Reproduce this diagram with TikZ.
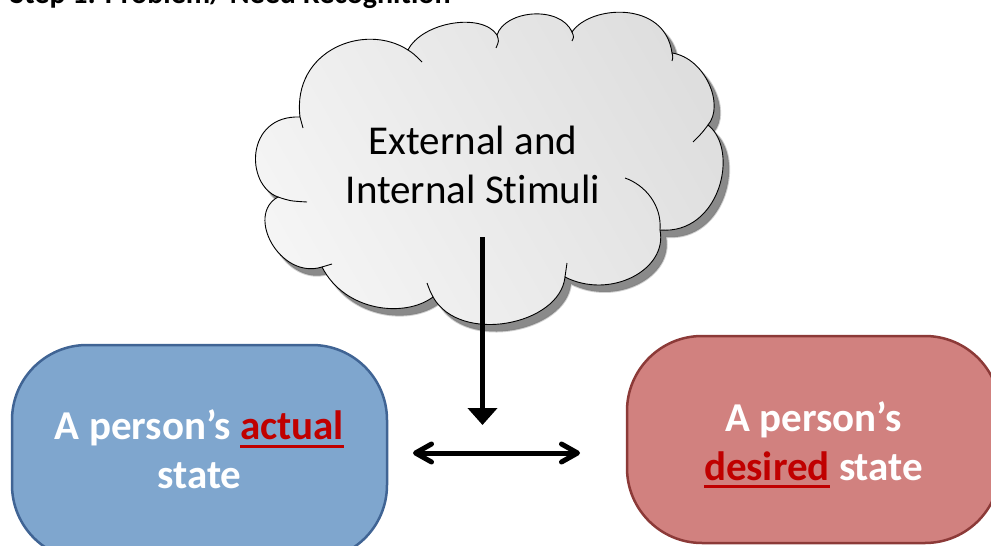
\documentclass[tikz,border=0pt]{standalone}
\usepackage{fontspec}
\setmainfont{Carlito}[Ligatures=NoCommon]
\usetikzlibrary{arrows.meta}

\definecolor{actualfill}{RGB}{127,166,206}
\definecolor{actualedge}{RGB}{64,100,148}
\definecolor{desiredfill}{RGB}{209,129,127}
\definecolor{desirededge}{RGB}{140,58,56}
\definecolor{accentred}{RGB}{192,0,0}
\definecolor{cloudlight}{RGB}{245,245,245}
\definecolor{clouddark}{RGB}{222,222,222}
\definecolor{cloudshadow}{RGB}{125,125,125}

% red, thickly underlined word
\newcommand\keyword[2][-8pt]{{\color{accentred}\setbox0\hbox{#2}\rlap{\rule[#1]{\wd0}{3pt}}\box0}}

% outline of the thought cloud (lobes between junction points)
\newcommand\cloudoutline{(300,117) .. controls (292,50) and (365,22) .. (408,50)
  .. controls (422,22) and (482,12) .. (497,35)
  .. controls (505,10) and (560,5) .. (572,32)
  .. controls (590,5) and (665,0) .. (672,53)
  .. controls (705,58) and (725,105) .. (708,125)
  .. controls (740,150) and (720,235) .. (660,230)
  .. controls (668,270) and (610,300) .. (565,277)
  .. controls (560,325) and (460,345) .. (433,297)
  .. controls (405,318) and (345,312) .. (322,267)
  .. controls (280,280) and (245,215) .. (278,197)
  .. controls (245,185) and (245,115) .. (300,117) -- cycle}

\begin{document}
\begin{tikzpicture}[x=1pt,y=-1pt,
  cloudline/.style={draw=black,line width=0.9pt},
  cloudtext/.style={font=\fontsize{41}{49}\selectfont,align=center,inner sep=0pt},
  statebox/.style={rounded corners=75pt,line width=2.5pt,text=white,
    font=\bfseries\fontsize{41}{49}\selectfont,align=center,inner sep=0pt},
  titletext/.style={font=\bfseries\fontsize{30}{36}\selectfont,inner sep=0pt,anchor=base west},
  pointer/.style={line width=5pt,-{Triangle[length=17pt,width=29pt]}},
  relation/.style={line width=5pt,line cap=round,
    {Straight Barb[length=16pt,width=18pt,round]}-{Straight Barb[length=16pt,width=18pt,round]}}
]
\useasboundingbox (0,0) rectangle (991,546);

% heading
\node[titletext] (title) at (10,3) {Step 1: Problem/ Need Recognition};

% cloud: soft shadow, shaded body, outline and inner lobe arcs
\begin{scope}[shift={(6,7)}]
  \fill[cloudshadow,opacity=0.35] \cloudoutline;
  \draw[cloudshadow,opacity=0.35,line width=2pt] \cloudoutline;
  \fill[cloudshadow,opacity=0.85] \cloudoutline;
\end{scope}
\shade[left color=cloudlight,right color=clouddark,shading angle=120] \cloudoutline;
\draw[cloudline] \cloudoutline;
\draw[cloudline] (300,117) .. controls (301,122) .. (303,128);
\draw[cloudline] (408,50) .. controls (414,54) .. (422,62);
\draw[cloudline] (497,35) .. controls (499,41) .. (496,48);
\draw[cloudline] (572,32) .. controls (574,37) .. (572,41);
\draw[cloudline] (672,53) .. controls (673,57) .. (672,61);
\draw[cloudline] (708,125) .. controls (702,133) .. (693,142);
\draw[cloudline] (660,230) .. controls (662,205) and (645,185) .. (625,178);
\draw[cloudline] (565,277) .. controls (566,270) .. (567,263);
\draw[cloudline] (433,297) .. controls (430,291) .. (427,283);
\draw[cloudline] (322,267) .. controls (327,266) .. (332,264);
\draw[cloudline] (278,197) .. controls (290,201) .. (307,202);
\node[cloudtext] (stimuli) at (473,165) {External and\\Internal Stimuli};

% the two states
\node[statebox,fill=actualfill,draw=actualedge,minimum width=375pt,minimum height=215pt]
  (actual) at (199.5,452.5) {A person’s \keyword{actual}\\state\rule[-6pt]{0pt}{6pt}};
\node[statebox,fill=desiredfill,draw=desirededge,minimum width=373pt,minimum height=207pt]
  (desired) at (813.5,439.5) {\rule{0pt}{40pt}A person’s\\\keyword{desired} state};

% arrows
\coordinate (vtop) at (482.5,237);
\coordinate (vtip) at (482.5,425);
\coordinate (hleft) at (413,453);
\coordinate (hright) at (580,453);
\draw[pointer] (vtop) -- (vtip);
\draw[relation] (hleft) -- (hright);
\end{tikzpicture}
\end{document}
